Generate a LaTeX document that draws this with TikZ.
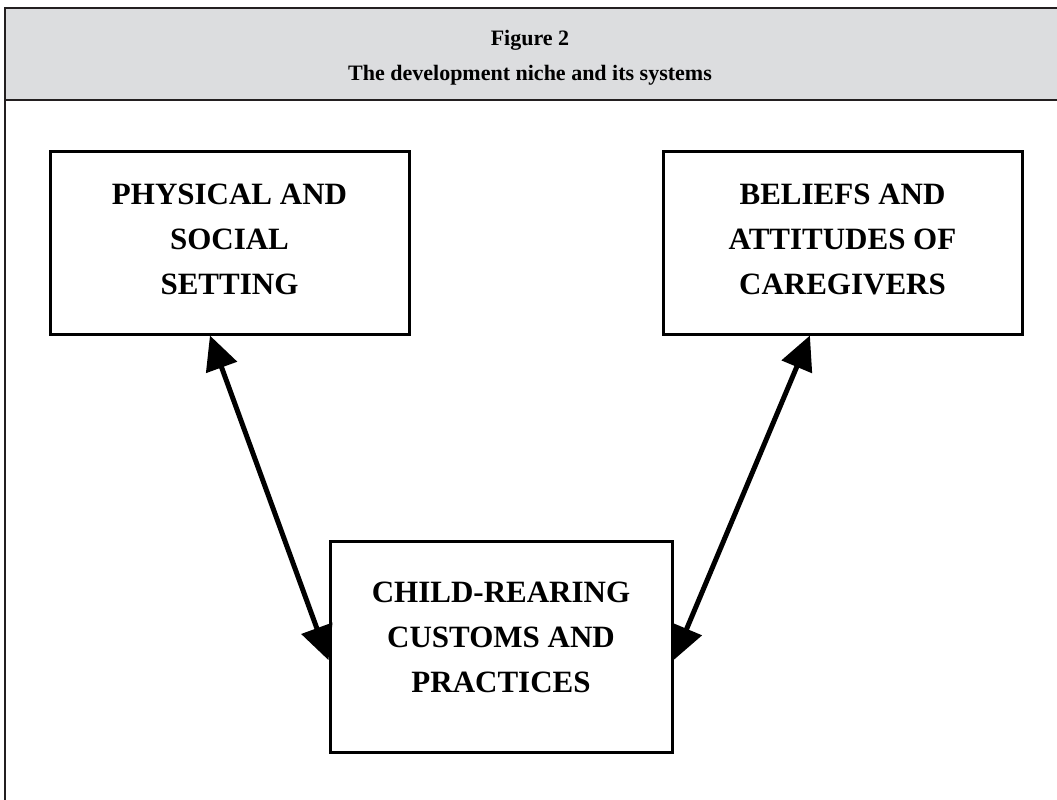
\documentclass[tikz,border=0pt]{standalone}
\usepackage{fontspec}
\setmainfont{Liberation Serif}
\usetikzlibrary{arrows.meta,calc}
\definecolor{hdr}{HTML}{DCDDDF}
\definecolor{frm}{HTML}{231F20}
\tikzset{
  boxnode/.style={draw=black,line width=3pt,align=center,inner sep=0pt,
    font=\fontsize{31}{45}\selectfont\bfseries},
  link/.style={line width=5pt,{Triangle[length=34pt,width=32pt]}-{Triangle[length=34pt,width=32pt]}},
}
\begin{document}
\begin{tikzpicture}[x=1pt,y=-1pt]
\useasboundingbox (0,0) rectangle (1057,800);
\begin{scope}
\clip (0,0) rectangle (1057,800);
\fill[hdr] (5,8) rectangle (1070,100);
\draw[frm,line width=2.5pt] (5,8) rectangle (1070,820);
\draw[frm,line width=2.5pt] (5,100) -- (1070,100);
\end{scope}
\node[font=\fontsize{22}{35}\selectfont\bfseries,align=center] (title) at (530,58) {Figure 2\\The development niche and its systems};
\node[boxnode,minimum width=359pt,minimum height=183pt] (phys) at (229.5,242.5) {};
\node[boxnode,draw=none,font=\fontsize{31}{45}\selectfont\bfseries] (physt) at (229.5,239) {PHYSICAL AND\\SOCIAL\\SETTING};
\node[boxnode,minimum width=359pt,minimum height=183pt] (beli) at (842.5,242.5) {};
\node[boxnode,draw=none] (belit) at (842.5,239) {BELIEFS AND\\ATTITUDES OF\\CAREGIVERS};
\node[boxnode,minimum width=342pt,minimum height=211pt] (child) at (501,646.5) {};
\node[boxnode,draw=none] (childt) at (501,637) {CHILD-REARING\\CUSTOMS AND\\PRACTICES};
\draw[link] ($(phys.south west)!0.446!(phys.south east)$) -- ($(child.north west)!0.564!(child.south west)$);
\draw[link] ($(beli.south west)!0.41!(beli.south east)$) -- ($(child.north east)!0.564!(child.south east)$);
\end{tikzpicture}
\end{document}
